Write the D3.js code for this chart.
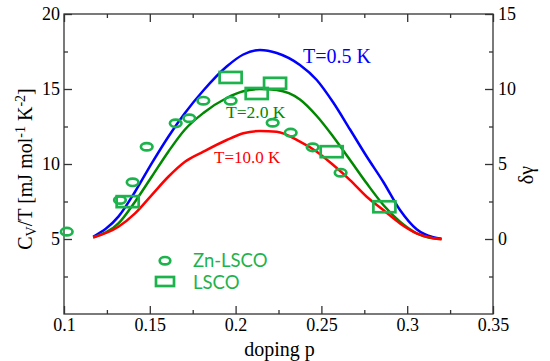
<!DOCTYPE html>
<html>
<head>
<meta charset="utf-8">
<script src="https://cdn.jsdelivr.net/npm/d3@7"></script>
<style>
  body { margin: 0; background: #fff; }
  svg text { font-family: "Liberation Serif", "DejaVu Serif", serif; }
</style>
</head>
<body>
<div id="chart"></div>
<script>
// curve doping values (shared by the three model curves)
var curveP = [0.117, 0.1317, 0.1414, 0.1511, 0.1608, 0.1705, 0.1812, 0.1948, 0.2045, 0.2142,
  0.224, 0.2375, 0.2473, 0.2569, 0.2667, 0.2764, 0.2861, 0.2958, 0.3055, 0.3152, 0.32];
// C_V/T for each temperature (left axis)
var cvT05 = [5.15, 6.49, 8.15, 10.04, 11.82, 13.4, 14.9, 16.5, 17.3, 17.6,
  17.4, 16.6, 15.6, 14.1, 12.3, 10.5, 8.8, 6.93, 5.65, 5.12, 5.02];
var cvT20 = [5.12, 6.04, 7.49, 9.15, 10.82, 12.3, 13.4, 14.4, 14.85, 15.0,
  14.93, 14.3, 13.2, 11.82, 10.27, 8.71, 7.27, 6.15, 5.38, 5.05, 5.0];
var cvT100 = [5.1, 5.82, 6.71, 7.93, 9.15, 10.15, 10.82, 11.6, 12.05, 12.2,
  12.15, 11.49, 10.82, 9.93, 8.93, 7.82, 6.93, 6.04, 5.38, 5.05, 4.98];

// delta gamma data (right axis)
var znP = [0.1016, 0.1326, 0.140, 0.1482, 0.1651, 0.1730, 0.1812, 0.1971, 0.2216, 0.2321, 0.2449, 0.2612];
var znDg = [0.49, 2.6, 3.78, 6.15, 7.71, 8.05, 9.22, 9.22, 7.75, 7.09, 6.11, 4.42];
var lscoP = [0.1371, 0.1971, 0.2123, 0.2230, 0.2560, 0.2867];
var lscoDg = [2.49, 10.77, 9.70, 10.38, 5.82, 2.15];

var xTicks = [0.1, 0.15, 0.2, 0.25, 0.3, 0.35];
var yLeftTicks = [5, 10, 15, 20];
var yRightTicks = [0, 5, 10, 15];

var width = 550, height = 361;
var margin = {top: 14, right: 57, bottom: 47, left: 64};
var green = "#1db34c";
var serif = "'Liberation Serif', 'DejaVu Serif', serif";

var svg = d3.select("#chart").append("svg")
  .attr("width", width)
  .attr("height", height);

var x = d3.scaleLinear().domain([0.1, 0.35]).range([margin.left, width - margin.right]);
var yL = d3.scaleLinear().domain([0, 20]).range([height - margin.bottom, margin.top]);
var yR = d3.scaleLinear().domain([-5, 15]).range([height - margin.bottom, margin.top]);

var fmt = function (d) { return d3.format("")(d); };

// minor ticks first, then major ticks, all pointing inward
function drawAxis(axis, scale, major, minor, transform) {
  var gMinor = svg.append("g").attr("transform", transform)
    .call(axis(scale).tickValues(minor).tickSize(4).tickFormat(""));
  var g = svg.append("g").attr("transform", transform)
    .call(axis(scale).tickValues(major).tickSize(8).tickFormat(fmt));
  [gMinor, g].forEach(function (s) {
    s.select(".domain").remove();
    s.selectAll("line").attr("stroke", "#333").attr("stroke-width", 1.3);
  });
  g.selectAll("text")
    .attr("fill", "#000")
    .style("font-family", serif)
    .style("font-size", "18px");
  return g;
}

var xMinor = [0.125, 0.175, 0.225, 0.275, 0.325];
var yLMinor = [2.5, 7.5, 12.5, 17.5];
var yRMinor = [-2.5, 2.5, 7.5, 12.5];

// bottom
var gx = drawAxis(d3.axisTop, x, xTicks, xMinor, "translate(0," + (height - margin.bottom) + ")");
gx.selectAll("text").attr("y", 17).attr("dy", "0");
// top
var gxt = drawAxis(d3.axisBottom, x, xTicks, xMinor, "translate(0," + margin.top + ")");
gxt.selectAll("text").remove();
// left
var gyl = drawAxis(d3.axisRight, yL, yLeftTicks, yLMinor, "translate(" + margin.left + ",0)");
gyl.selectAll("text").attr("x", -4).attr("text-anchor", "end");
// right
var gyr = drawAxis(d3.axisLeft, yR, yRightTicks, yRMinor, "translate(" + (width - margin.right) + ",0)");
gyr.selectAll("text").attr("x", 5).attr("text-anchor", "start");

// frame
svg.append("rect")
  .attr("x", margin.left)
  .attr("y", margin.top)
  .attr("width", width - margin.left - margin.right)
  .attr("height", height - margin.top - margin.bottom)
  .attr("fill", "none")
  .attr("stroke", "#333")
  .attr("stroke-width", 1.3);

// model curves
var line = d3.line()
  .x(function (d) { return x(d[0]); })
  .y(function (d) { return yL(d[1]); })
  .curve(d3.curveMonotoneX);

var curves = [
  {vals: cvT05, color: "#0000ff"},
  {vals: cvT20, color: "#008800"},
  {vals: cvT100, color: "#ff0000"}
];
curves.forEach(function (c) {
  svg.append("path")
    .datum(curveP.map(function (p, i) { return [p, c.vals[i]]; }))
    .attr("d", line)
    .attr("fill", "none")
    .attr("stroke", c.color)
    .attr("stroke-width", 2.5);
});

// curve labels
svg.append("text").attr("x", 303).attr("y", 63).attr("fill", "#0000ff")
  .style("font-size", "20px").text("T=0.5 K");
svg.append("text").attr("x", 226).attr("y", 118).attr("fill", "#008800")
  .style("font-size", "17.5px").text("T=2.0 K");
svg.append("text").attr("x", 214).attr("y", 163).attr("fill", "#ff0000")
  .style("font-size", "17px").text("T=10.0 K");

// data markers
svg.append("g").selectAll("ellipse")
  .data(znP.map(function (p, i) { return [p, znDg[i]]; }))
  .enter().append("ellipse")
  .attr("cx", function (d) { return x(d[0]); })
  .attr("cy", function (d) { return yR(d[1]); })
  .attr("rx", 5.8)
  .attr("ry", 3.7)
  .attr("fill", "none")
  .attr("stroke", green)
  .attr("stroke-width", 2.7);

svg.append("g").selectAll("rect")
  .data(lscoP.map(function (p, i) { return [p, lscoDg[i]]; }))
  .enter().append("rect")
  .attr("x", function (d) { return x(d[0]) - 11; })
  .attr("y", function (d) { return yR(d[1]) - 5.5; })
  .attr("width", 22)
  .attr("height", 11)
  .attr("fill", "none")
  .attr("stroke", green)
  .attr("stroke-width", 2.7);

// legend
var legend = svg.append("g").attr("transform", "translate(165,0)");
legend.append("ellipse")
  .attr("cx", 0).attr("cy", 260.7).attr("rx", 5.3).attr("ry", 3.7)
  .attr("fill", "none").attr("stroke", green).attr("stroke-width", 2.7);
legend.append("rect")
  .attr("x", -9).attr("y", 277).attr("width", 18).attr("height", 9)
  .attr("fill", "none").attr("stroke", green).attr("stroke-width", 2.7);
legend.append("text").attr("x", 28).attr("y", 267).attr("fill", green)
  .style("font-family", "Lato, 'Open Sans', sans-serif").style("font-size", "18.5px")
  .text("Zn-LSCO");
legend.append("text").attr("x", 28).attr("y", 288.5).attr("fill", green)
  .style("font-family", "Lato, 'Open Sans', sans-serif").style("font-size", "18.5px")
  .text("LSCO");

// axis titles
svg.append("text")
  .attr("x", (margin.left + width - margin.right) / 2 + 1)
  .attr("y", 356)
  .attr("text-anchor", "middle")
  .style("font-size", "20px")
  .text("doping p");

var yt = svg.append("text")
  .attr("transform", "translate(32,169) rotate(-90)")
  .attr("text-anchor", "middle")
  .style("font-size", "20px");
yt.append("tspan").text("C");
yt.append("tspan").attr("baseline-shift", "-25%").style("font-size", "14px").text("V");
yt.append("tspan").text("/T [mJ mol");
yt.append("tspan").attr("baseline-shift", "super").style("font-size", "14px").text("-1");
yt.append("tspan").text(" K");
yt.append("tspan").attr("baseline-shift", "super").style("font-size", "14px").text("-2");
yt.append("tspan").text("]");

svg.append("text")
  .attr("transform", "translate(533,175) rotate(-90)")
  .attr("text-anchor", "middle")
  .style("font-size", "20px")
  .text("δγ");
</script>
</body>
</html>
